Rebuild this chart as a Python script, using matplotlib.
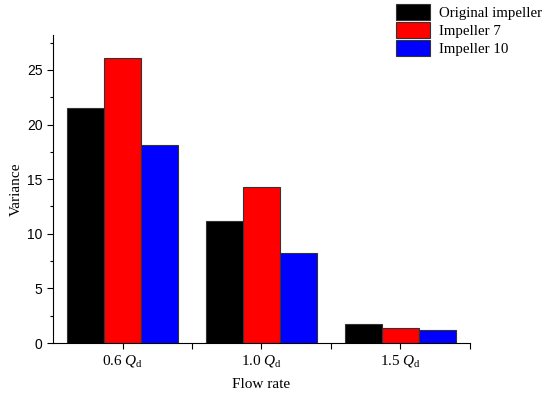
import numpy as np
import matplotlib
matplotlib.use('Agg')
import matplotlib.pyplot as plt
from matplotlib.ticker import MultipleLocator

# data
groups = ['0.6 $\\mathit{Q}_{\\rm d}$', '1.0 $\\mathit{Q}_{\\rm d}$', '1.5 $\\mathit{Q}_{\\rm d}$']
series = ['Original impeller', 'Impeller 7', 'Impeller 10']
original = [21.5, 11.15, 1.75]
imp7 = [26.05, 14.3, 1.42]
imp10 = [18.15, 8.2, 1.18]
colors = ['#000000', '#ff0000', '#0000ff']

plt.rcParams['mathtext.fontset'] = 'custom'
plt.rcParams['mathtext.rm'] = 'Liberation Serif'
plt.rcParams['mathtext.it'] = 'Liberation Serif:italic'

fig = plt.figure(figsize=(5.5, 3.96), dpi=100)
ax = fig.add_axes([0.0964, 0.1338, 0.758, 0.778])

x = np.arange(1, len(groups) + 1)
w = 0.8 / 3
handles = []
for i, (vals, c) in enumerate(zip([original, imp7, imp10], colors)):
    h = ax.bar(x + (i - 1) * w, vals, w, color=c, edgecolor='#333333', linewidth=0.8, label=series[i])
    handles.append(h)

ax.set_xlim(0.5, 3.5)
ax.set_ylim(0, 28.2)
ax.spines['top'].set_visible(False)
ax.spines['right'].set_visible(False)
ax.set_xticks(x)
ax.set_xticklabels(groups, fontfamily='Liberation Serif', fontsize=11)
ax.set_xticks([1.5, 2.5, 3.5], minor=True)
ax.yaxis.set_major_locator(MultipleLocator(5))
ax.yaxis.set_minor_locator(MultipleLocator(2.5))
ax.tick_params(axis='both', which='major', direction='out', length=4, width=0.8)
ax.tick_params(axis='both', which='minor', direction='out', length=2.5, width=0.8)
ax.tick_params(axis='x', which='minor', length=4)
for lab in ax.get_yticklabels():
    lab.set_fontfamily('Liberation Sans')
    lab.set_fontsize(10)

ax.set_xlabel('Flow rate', fontfamily='Liberation Serif', fontsize=11, labelpad=6)
ax.set_ylabel('Variance', fontfamily='Liberation Serif', fontsize=11, labelpad=3)

fig.legend(handles=handles, loc='upper left', bbox_to_anchor=(0.72, 0.99),
           frameon=False, prop={'family': 'Liberation Serif', 'size': 10.7},
           handlelength=2.3, handleheight=1.3, handletextpad=0.6, labelspacing=0.12,
           borderpad=0, borderaxespad=0)

fig.savefig('out.png', dpi=100)
